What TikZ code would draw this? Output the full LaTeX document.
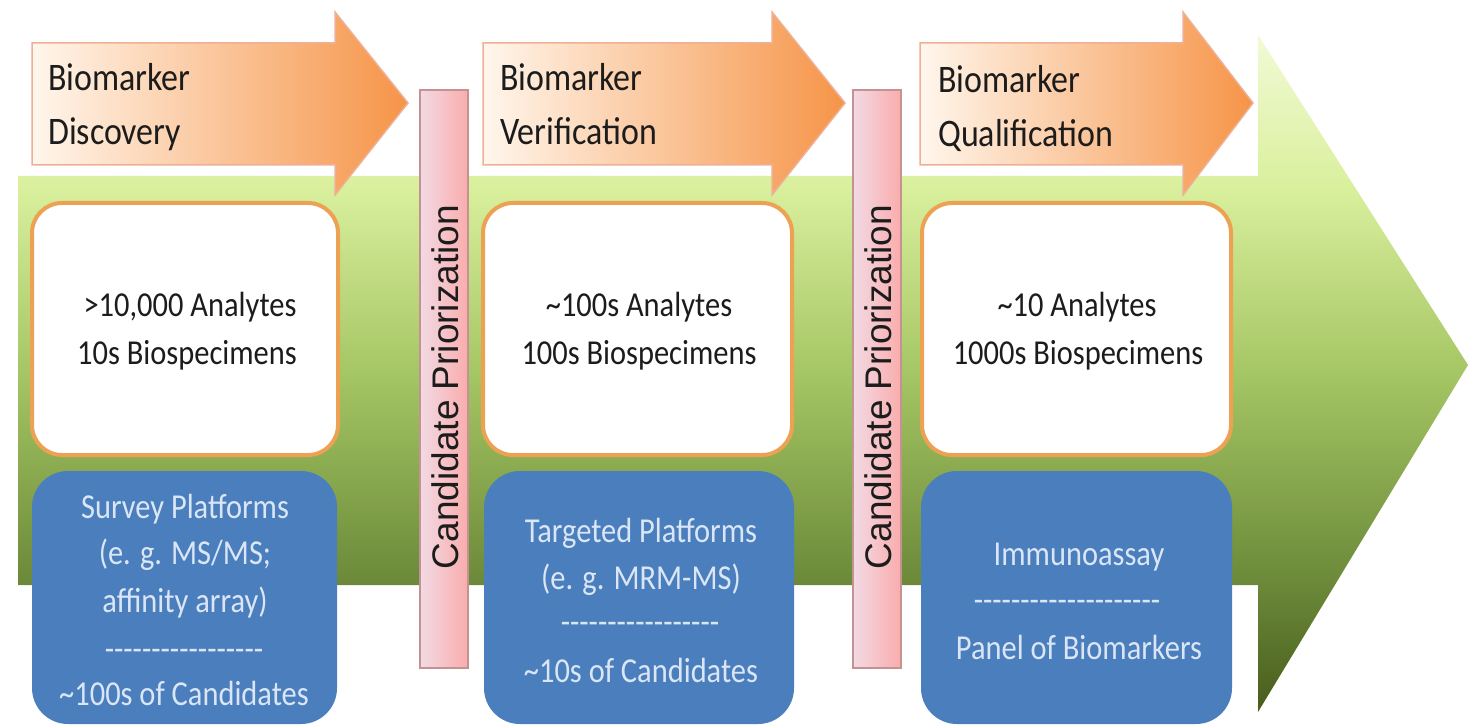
\documentclass[tikz,border=0pt]{standalone}
\usepackage{fontspec}
\setmainfont{Carlito}[FakeStretch=0.87]
% same face without TeX ligatures, so runs of hyphens stay hyphens
\newfontfamily\rulefont{Carlito}[FakeStretch=0.87]
\newfontfamily\barfont{Liberation Sans}

% palette
\definecolor{gBot}{RGB}{72,92,28}
\definecolor{gLow}{RGB}{105,135,55}
\definecolor{gMid}{RGB}{165,198,100}
\definecolor{gLime}{RGB}{218,240,158}
\definecolor{gTop}{RGB}{242,250,214}
\definecolor{oL}{RGB}{255,246,236}
\definecolor{oM}{RGB}{252,200,108}
\definecolor{oR}{RGB}{246,148,72}
\definecolor{oEdge}{RGB}{238,176,150}
\definecolor{pL}{RGB}{242,218,228}
\definecolor{pR}{RGB}{250,172,172}
\definecolor{pEdge}{RGB}{196,146,146}
\definecolor{boxEdge}{RGB}{236,162,82}
\definecolor{blueFill}{RGB}{74,126,188}
\definecolor{blueText}{RGB}{218,230,246}
\definecolor{darkText}{RGB}{28,28,28}

% vertical gradient for the large green arrow (bbox mapped to 25bp..75bp)
\pgfdeclareverticalshading{bandshade}{100bp}{%
  color(0bp)=(gBot); color(25bp)=(gBot); color(34bp)=(gLow);
  color(50bp)=(gMid); color(64bp)=(gLime); color(75bp)=(gTop);
  color(100bp)=(gTop)}

\tikzset{
  phasearrow/.style={left color=oL, middle color=oM, right color=oR,
    draw=oEdge, line width=1.5},
  gatebar/.style={left color=pL, right color=pR, draw=pEdge, line width=2},
  countbox/.style={fill=white, draw=boxEdge, line width=4, rounded corners=30},
  platbox/.style={fill=blueFill, rounded corners=36},
  hdr/.style={anchor=base west, inner sep=0, text=darkText,
    font=\fontsize{39}{47}\selectfont},
  cnt/.style={anchor=base, inner sep=0, text=darkText,
    font=\fontsize{35}{47}\selectfont},
  plat/.style={anchor=base, inner sep=0, text=blueText,
    font=\fontsize{35}{47}\selectfont},
  platrule/.style={anchor=base, inner sep=0, text=blueText,
    font=\rulefont\fontsize{35}{47}\selectfont},
  vert/.style={rotate=90, inner sep=0, text=darkText,
    font=\barfont\fontsize{37}{40}\selectfont},
}

\begin{document}
\begin{tikzpicture}[x=1pt,y=-1pt]
\useasboundingbox (0,0) rectangle (1468,727);
\fill[white] (0,0) rectangle (1468,727);

% large green process arrow
\shade[shading=bandshade]
  (18,176) -- (1258,176) -- (1258,35) -- (1468,365) -- (1258,712)
  -- (1258,585) -- (18,585) -- cycle;

% phase header arrows
\shadedraw[phasearrow] (32,43) -- (335,43) -- (335,12) -- (408,103)
  -- (335,195) -- (335,165) -- (32,165) -- cycle;
\shadedraw[phasearrow] (483,43) -- (772,43) -- (772,12) -- (845,103)
  -- (772,195) -- (772,165) -- (483,165) -- cycle;
\shadedraw[phasearrow] (920,43) -- (1183,43) -- (1183,12) -- (1253,103)
  -- (1183,195) -- (1183,165) -- (920,165) -- cycle;

\node[hdr] (h1a) at (48,91) {Biomarker};
\node[hdr] (h1b) at (48,145) {Discovery};
\node[hdr] (h2a) at (500,91) {Biomarker};
\node[hdr] (h2b) at (500,145) {Verification};
\node[hdr] (h3a) at (938,93) {Biomarker};
\node[hdr] (h3b) at (938,147) {Qualification};

% prioritization gates
\shadedraw[gatebar] (420,90) rectangle (468,668);
\shadedraw[gatebar] (853,90) rectangle (901,668);
\node[vert] (g1) at (445,387) {Candidate Priorization};
\node[vert] (g2) at (878,387) {Candidate Priorization};

% analyte / specimen counts
\draw[countbox] (32,203) rectangle (338,455);
\draw[countbox] (483,203) rectangle (792,455);
\draw[countbox] (922,203) rectangle (1231,455);

\node[cnt] (c1a) at (190,317) {>10,000 Analytes};
\node[cnt] (c1b) at (187,365) {10s Biospecimens};
\node[cnt] (c2a) at (639,317) {\textasciitilde100s Analytes};
\node[cnt] (c2b) at (639,365) {100s Biospecimens};
\node[cnt] (c3a) at (1077,317) {\textasciitilde10 Analytes};
\node[cnt] (c3b) at (1078,365) {1000s Biospecimens};

% platform boxes
\fill[platbox] (32,471) rectangle (337,724);
\fill[platbox] (484,471) rectangle (794,724);
\fill[platbox] (921,471) rectangle (1232,724);

\node[plat] (s1a) at (185,518) {Survey Platforms};
\node[plat] (s1b) at (185,564) {(e. g. MS/MS;};
\node[plat] (s1c) at (185,612) {affinity array)};
\node[platrule] (s1d) at (184,660) {-----------------};
\node[plat] (s1e) at (184,705) {\textasciitilde100s of Candidates};

\node[plat] (s2a) at (641,542) {Targeted Platforms};
\node[plat] (s2b) at (641,589) {(e. g. MRM-MS)};
\node[platrule] (s2c) at (640,633) {-----------------};
\node[plat] (s2d) at (641,682) {\textasciitilde10s of Candidates};

\node[plat] (s3a) at (1079,565) {Immunoassay};
\node[platrule] (s3b) at (1067,611) {--------------------};
\node[plat] (s3c) at (1079,659) {Panel of Biomarkers};
\end{tikzpicture}
\end{document}
